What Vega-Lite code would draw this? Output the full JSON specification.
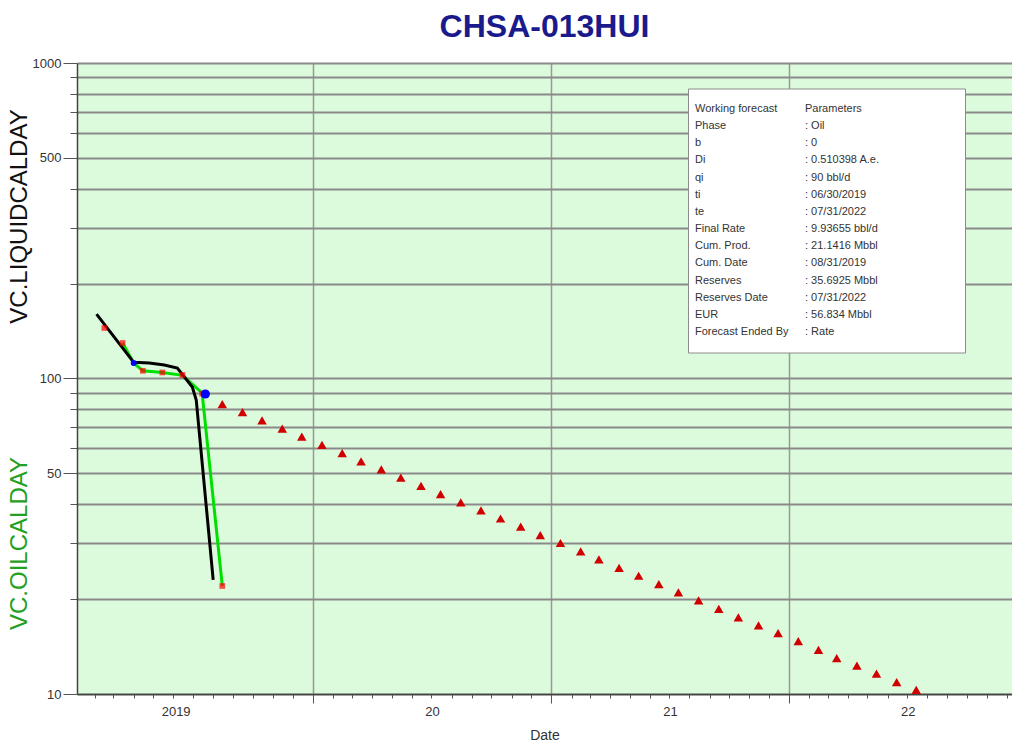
{
  "$schema": "https://vega.github.io/schema/vega-lite/v6.json",
  "width": 935,
  "height": 631,
  "autosize": {"type": "none"},
  "padding": {"left": 77, "top": 63, "right": 0, "bottom": 55},
  "background": "#ffffff",
  "view": {"fill": "#dcfadc", "stroke": null},
  "title": {"text": "CHSA-013HUI", "anchor": "middle", "frame": "group", "fontSize": 32, "font": "Liberation Sans", "fontWeight": "bold", "color": "#1a1a8c", "offset": -12, "baseline": "alphabetic"},
  "config": {"view": {"fill": "#dcfadc", "stroke": null}, "font": "Liberation Sans"},
  "datasets": {
    "liquid": [
      {"date": "2019-02-03", "rate": 160},
      {"date": "2019-04-01", "rate": 112.5},
      {"date": "2019-04-25", "rate": 112.0},
      {"date": "2019-05-18", "rate": 110.3},
      {"date": "2019-06-07", "rate": 107.9},
      {"date": "2019-06-30", "rate": 94.0},
      {"date": "2019-07-06", "rate": 85.5},
      {"date": "2019-08-01", "rate": 23.0}
    ],
    "oil": [
      {"date": "2019-03-15", "rate": 129.6},
      {"date": "2019-04-01", "rate": 112.0},
      {"date": "2019-04-15", "rate": 105.8},
      {"date": "2019-05-15", "rate": 104.5},
      {"date": "2019-06-15", "rate": 102.3},
      {"date": "2019-07-15", "rate": 90.0},
      {"date": "2019-08-15", "rate": 22.0}
    ],
    "oilPoints": [
      {"date": "2019-02-15", "rate": 144.6},
      {"date": "2019-03-15", "rate": 129.6},
      {"date": "2019-04-15", "rate": 105.8},
      {"date": "2019-05-15", "rate": 104.5},
      {"date": "2019-06-15", "rate": 102.6},
      {"date": "2019-07-15", "rate": 89.5},
      {"date": "2019-08-15", "rate": 22.0}
    ],
    "blue": [
      {"date": "2019-04-01", "rate": 112.0, "pt": "start"},
      {"date": "2019-07-20", "rate": 89.3, "pt": "end"}
    ],
    "forecast": [
      {"date": "2019-08-15", "rate": 83.0},
      {"date": "2019-09-15", "rate": 78.2},
      {"date": "2019-10-15", "rate": 73.7},
      {"date": "2019-11-15", "rate": 69.4},
      {"date": "2019-12-15", "rate": 65.4},
      {"date": "2020-01-15", "rate": 61.6},
      {"date": "2020-02-15", "rate": 58.0},
      {"date": "2020-03-15", "rate": 54.6},
      {"date": "2020-04-15", "rate": 51.5},
      {"date": "2020-05-15", "rate": 48.5},
      {"date": "2020-06-15", "rate": 45.7},
      {"date": "2020-07-15", "rate": 43.0},
      {"date": "2020-08-15", "rate": 40.5},
      {"date": "2020-09-15", "rate": 38.2},
      {"date": "2020-10-15", "rate": 36.0},
      {"date": "2020-11-15", "rate": 33.9},
      {"date": "2020-12-15", "rate": 31.9},
      {"date": "2021-01-15", "rate": 30.1},
      {"date": "2021-02-15", "rate": 28.3},
      {"date": "2021-03-15", "rate": 26.7},
      {"date": "2021-04-15", "rate": 25.1},
      {"date": "2021-05-15", "rate": 23.7},
      {"date": "2021-06-15", "rate": 22.3},
      {"date": "2021-07-15", "rate": 21.0},
      {"date": "2021-08-15", "rate": 19.8},
      {"date": "2021-09-15", "rate": 18.6},
      {"date": "2021-10-15", "rate": 17.5},
      {"date": "2021-11-15", "rate": 16.5},
      {"date": "2021-12-15", "rate": 15.6},
      {"date": "2022-01-15", "rate": 14.7},
      {"date": "2022-02-15", "rate": 13.8},
      {"date": "2022-03-15", "rate": 13.0},
      {"date": "2022-04-15", "rate": 12.3},
      {"date": "2022-05-15", "rate": 11.6},
      {"date": "2022-06-15", "rate": 10.9},
      {"date": "2022-07-15", "rate": 10.3}
    ],
    "params": [
      {"row": 1, "lab": "Working forecast", "val": "Parameters"},
      {"row": 2, "lab": "Phase", "val": ": Oil"},
      {"row": 3, "lab": "b", "val": ": 0"},
      {"row": 4, "lab": "Di", "val": ": 0.510398 A.e."},
      {"row": 5, "lab": "qi", "val": ": 90 bbl/d"},
      {"row": 6, "lab": "ti", "val": ": 06/30/2019"},
      {"row": 7, "lab": "te", "val": ": 07/31/2022"},
      {"row": 8, "lab": "Final Rate", "val": ": 9.93655 bbl/d"},
      {"row": 9, "lab": "Cum. Prod.", "val": ": 21.1416 Mbbl"},
      {"row": 10, "lab": "Cum. Date", "val": ": 08/31/2019"},
      {"row": 11, "lab": "Reserves", "val": ": 35.6925 Mbbl"},
      {"row": 12, "lab": "Reserves Date", "val": ": 07/31/2022 "},
      {"row": 13, "lab": "EUR", "val": ": 56.834 Mbbl"},
      {"row": 14, "lab": "Forecast Ended By", "val": ": Rate"}
    ]
  },
  "layer": [
    {
      "data": {"name": "oil"},
      "mark": {"type": "line", "color": "#00e000", "strokeWidth": 3},
      "encoding": {
        "x": {
          "field": "date", "type": "temporal",
          "scale": {"type": "utc", "domain": [{"year": 2019, "month": 1, "date": 4, "utc": true}, {"year": 2022, "month": 12, "date": 9, "utc": true}]},
          "axis": {
            "orient": "bottom",
            "tickCount": {"interval": "month", "step": 1},
            "grid": true, "gridColor": "#999999", "gridWidth": 1.5,
            "gridOpacity": {"condition": {"test": "utcmonth(datum.value) == 0", "value": 1}, "value": 0},
            "tickSize": {"condition": {"test": "utcmonth(datum.value) == 0", "value": 9}, "value": 4},
            "tickColor": "#555555", "labels": false,
            "domainColor": "#444444", "domainWidth": 1.5, "title": null
          }
        },
        "y": {
          "field": "rate", "type": "quantitative",
          "scale": {"type": "log", "domain": [10, 1000], "nice": false},
          "axis": {
            "orient": "left",
            "values": [10, 20, 30, 40, 50, 60, 70, 80, 90, 100, 200, 300, 400, 500, 600, 700, 800, 900, 1000],
            "format": "d",
            "grid": true, "gridColor": "#8a8a8a", "gridWidth": 2,
            "labelExpr": "(datum.value == 10 || datum.value == 50 || datum.value == 100 || datum.value == 500 || datum.value == 1000) ? datum.label : ''",
            "tickSize": {"condition": {"test": "datum.value == 10 || datum.value == 50 || datum.value == 100 || datum.value == 500 || datum.value == 1000", "value": 14}, "value": 7},
            "tickColor": "#555555", "domainColor": "#444444", "domainWidth": 1.5,
            "labelFontSize": 13, "labelColor": "#333333", "labelPadding": 2,
            "title": "VC.LIQUIDCALDAY", "titleFontSize": 24, "titleFontWeight": "normal", "titleColor": "#111111",
            "titleX": -58, "titleY": 153, "titleAngle": 270, "titleAlign": "center", "titleBaseline": "middle"
          }
        }
      }
    },
    {
      "data": {"name": "liquid"},
      "mark": {"type": "line", "color": "#000000", "strokeWidth": 3},
      "encoding": {
        "x": {
          "field": "date", "type": "temporal",
          "axis": {
            "orient": "bottom",
            "values": [{"year": 2019, "month": 7, "date": 2, "utc": true}, {"year": 2020, "month": 7, "date": 2, "utc": true}, {"year": 2021, "month": 7, "date": 2, "utc": true}, {"year": 2022, "month": 7, "date": 2, "utc": true}],
            "ticks": false, "grid": false, "domain": false,
            "labelExpr": "utcyear(datum.value) == 2019 ? '2019' : utcFormat(datum.value, '%y')",
            "labelOffset": {"condition": {"test": "utcyear(datum.value) == 2019", "value": -18}, "value": 0},
            "labelPadding": 11, "labelFontSize": 13, "labelColor": "#333333",
            "title": "Date", "titleFontSize": 14, "titleFontWeight": "normal", "titleColor": "#333333", "titlePadding": 10
          }
        },
        "y": {
          "field": "rate", "type": "quantitative",
          "axis": {
            "orient": "left", "domain": false, "ticks": false, "labels": false, "grid": false,
            "title": "VC.OILCALDAY", "titleFontSize": 24, "titleFontWeight": "normal", "titleColor": "#22a022",
            "titleX": -58, "titleY": 480, "titleAngle": 270, "titleAlign": "center", "titleBaseline": "middle"
          }
        }
      }
    },
    {
      "data": {"name": "oilPoints"},
      "mark": {"type": "point", "shape": "square", "filled": true, "color": "#ff0000", "size": 32},
      "encoding": {
        "x": {"field": "date", "type": "temporal", "axis": null},
        "y": {"field": "rate", "type": "quantitative", "axis": null}
      }
    },
    {
      "data": {"name": "forecast"},
      "mark": {"type": "point", "shape": "triangle-up", "filled": true, "color": "#d00000", "size": 90, "opacity": 1},
      "encoding": {
        "x": {"field": "date", "type": "temporal", "axis": null},
        "y": {"field": "rate", "type": "quantitative", "axis": null}
      }
    },
    {
      "data": {"name": "blue"},
      "mark": {"type": "point", "shape": "circle", "filled": true, "color": "#0000ff", "opacity": 1},
      "encoding": {
        "x": {"field": "date", "type": "temporal", "axis": null},
        "y": {"field": "rate", "type": "quantitative", "axis": null},
        "size": {"field": "pt", "type": "ordinal", "scale": {"domain": ["start", "end"], "range": [35, 85]}, "legend": null}
      }
    },
    {
      "data": {"name": "params"},
      "mark": {"type": "point", "opacity": 0},
      "encoding": {
        "color": {
          "field": "val", "type": "nominal", "sort": {"field": "row", "op": "min"},
          "scale": {"range": ["#ffffff"]},
          "legend": {
            "orient": "none", "legendX": 611, "legendY": 25.5,
            "title": " ", "titleOrient": "right", "titlePadding": 70, "titleOpacity": 0,
            "fillColor": "#ffffff", "strokeColor": "#8c8c8c", "padding": 15,
            "labelFontSize": 11, "labelColor": "#333333", "labelFont": "Liberation Sans",
            "labelOffset": 91, "labelLimit": 300,
            "symbolSize": 1, "symbolOpacity": 0, "symbolStrokeWidth": 0, "symbolType": "square",
            "rowPadding": 5.15
          }
        }
      }
    },
    {
      "data": {"name": "params"},
      "mark": {"type": "point", "opacity": 0},
      "encoding": {
        "color": {
          "field": "lab", "type": "nominal", "sort": {"field": "row", "op": "min"},
          "scale": {"range": ["#ffffff"]},
          "legend": {
            "orient": "none", "legendX": 588, "legendY": 25.5,
            "title": null, "padding": 15,
            "labelFontSize": 11, "labelColor": "#333333", "labelFont": "Liberation Sans",
            "labelOffset": 4, "labelLimit": 300,
            "symbolSize": 1, "symbolOpacity": 0, "symbolStrokeWidth": 0, "symbolType": "square",
            "rowPadding": 5.15
          }
        }
      }
    }
  ],
  "resolve": {
    "scale": {"color": "independent"},
    "axis": {"x": "independent", "y": "independent"}
  }
}
